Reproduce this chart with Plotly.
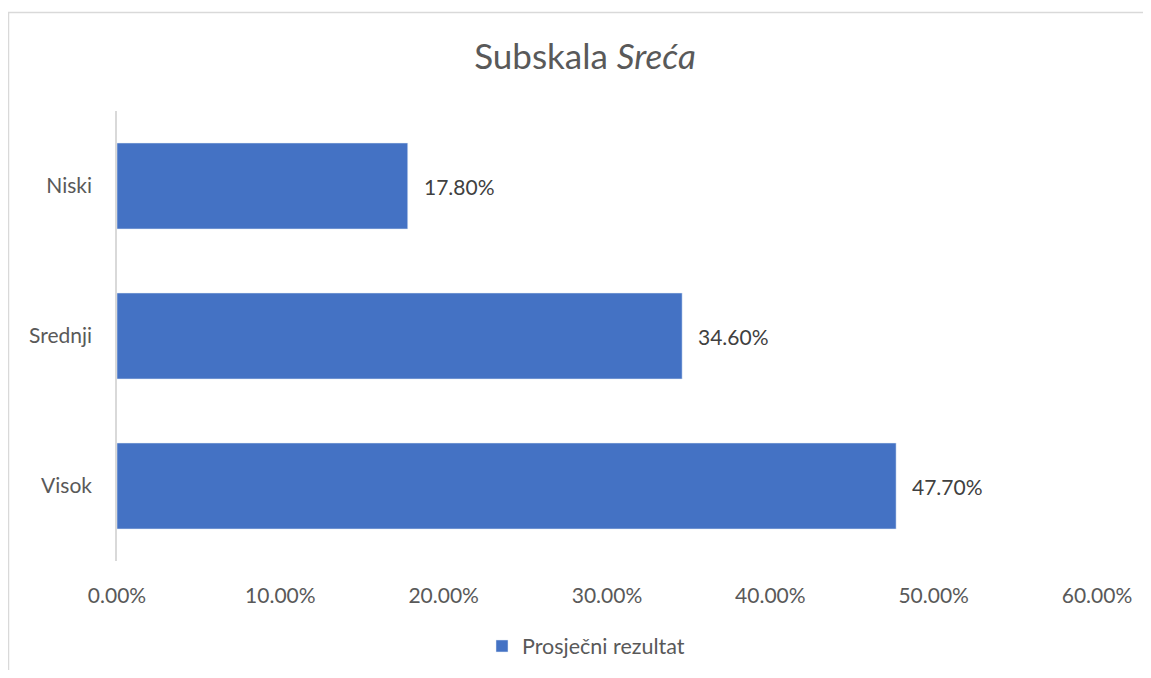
import plotly.graph_objects as go

categories = ["Niski", "Srednji", "Visok"]
values = [17.80, 34.60, 47.70]
tick_values = [0, 10, 20, 30, 40, 50, 60]
tick_labels = ["0.00%", "10.00%", "20.00%", "30.00%", "40.00%", "50.00%", "60.00%"]
series_name = "Prosječni rezultat"

TEXT = "#595959"
FONT = "Lato"
BAR = "#4472C4"
GRID = "#d9d9d9"

# page body has an 8px margin; figure is sized to fit the window
OFF = 8
W, H = 1151 - 2 * OFF, 678 - 2 * OFF
L, T = 117 - OFF, 111 - OFF
pw, ph = 980, 450
R, B = W - L - pw, H - T - ph

fig = go.Figure()
fig.add_trace(go.Bar(
    y=categories, x=values, orientation="h", name=series_name,
    marker=dict(color=BAR), showlegend=True, hoverinfo="x+y",
))
for c, v in zip(categories, values):
    fig.add_annotation(x=v, y=c, xref="x", yref="y", text=f"{v:.2f}%",
                       showarrow=False, xanchor="left", yanchor="middle",
                       xshift=14, font=dict(family=FONT, size=21, color="#404040"))

fig.update_layout(
    width=W, height=H,
    margin=dict(l=L, r=R, t=T, b=B, autoexpand=False),
    paper_bgcolor="white", plot_bgcolor="white",
    bargap=0.427,
    title=dict(text="Subskala <i>Sreća</i>", x=(585 - OFF) / W, xanchor="center",
               y=1 - (57 - OFF) / H, yanchor="middle",
               font=dict(family=FONT, size=35, color=TEXT)),
    xaxis=dict(range=[0, 60], tickvals=tick_values, ticktext=tick_labels,
               showgrid=False, zeroline=False, showline=False, automargin=False,
               tickfont=dict(family=FONT, size=21, color=TEXT),
               ticks="", ticklabelstandoff=20),
    yaxis=dict(autorange="reversed", showgrid=False, zeroline=False, automargin=False,
               showline=True, linecolor=GRID, linewidth=1.5,
               tickfont=dict(family=FONT, size=21, color=TEXT),
               ticks="", ticklabelstandoff=19),
    legend=dict(orientation="h", xref="container", x=(586 - OFF) / W, xanchor="center",
                yref="container", y=1 - (646 - OFF) / H, yanchor="middle",
                font=dict(family=FONT, size=21.5, color=TEXT)),
    shapes=[dict(type="rect", xref="paper", yref="paper",
                 x0=(8.5 - OFF - L) / pw, x1=(W + 20 - L) / pw,
                 y0=-(H + 20 - T - ph) / ph, y1=1 + (T - (12.5 - OFF)) / ph,
                 line=dict(color=GRID, width=1.5), layer="below")],
)

fig.write_html("out.html")
